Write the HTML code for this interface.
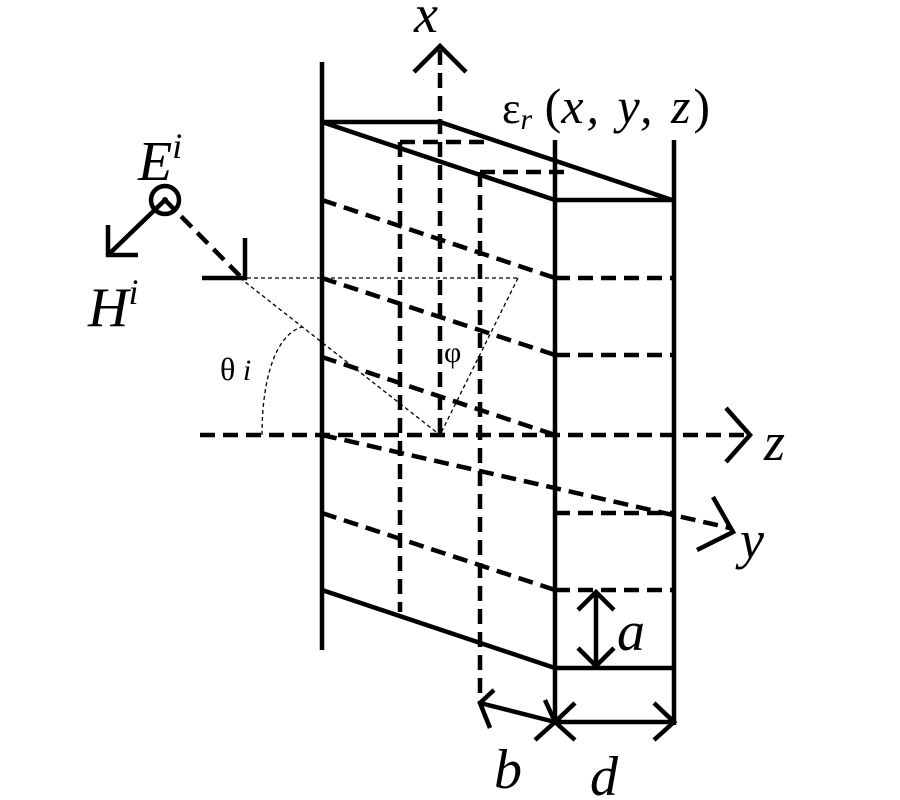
<!DOCTYPE html>
<html><head><style>body{margin:0;background:#fff}svg{display:block}</style></head><body>
<svg width="900" height="800" viewBox="0 0 900 800" xmlns="http://www.w3.org/2000/svg" font-family="Liberation Serif, serif" font-style="italic">
<g stroke="#000" stroke-width="4.5" fill="none" stroke-linecap="butt">
<line x1="322" y1="62" x2="322" y2="650"/>
<polyline points="322,122 440,122 672,200"/>
<line x1="322" y1="122" x2="555" y2="200"/>
<line x1="555" y1="140" x2="555" y2="722"/>
<line x1="674" y1="140" x2="674" y2="725"/>
<line x1="555" y1="200" x2="674" y2="200"/>
<line x1="322" y1="590" x2="555" y2="668"/>
<line x1="555" y1="668" x2="674" y2="668"/>
<polyline points="414,72 440,46 466,72"/>
<polyline points="726,408 750,435 726,462"/>
<polyline points="713,497 733,532 697,550"/>
<circle cx="165" cy="200" r="14"/>
<line x1="165" y1="200" x2="108" y2="255"/>
<polyline points="108,225 108,255 138,255"/>
<polyline points="245,238 245,278 202,278"/>
<line x1="596" y1="592" x2="596" y2="665"/>
<polyline points="578,610 596,592 614,610"/>
<polyline points="578,648 596,666 614,648"/>
<line x1="480" y1="703" x2="555" y2="722"/>
<polyline points="494,690 480,703 490,728"/>
<polyline points="535,740 555,722 545,700"/>
<line x1="555" y1="722" x2="674" y2="722"/>
<polyline points="575,703 555,722 575,740"/>
<polyline points="654,703 674,722 654,740"/>
</g>
<circle cx="165" cy="200" r="3" fill="#000"/>
<g stroke="#000" stroke-width="4.5" fill="none" stroke-dasharray="15,8">
<line x1="440" y1="50" x2="440" y2="435"/>
<line x1="200" y1="435" x2="748" y2="435"/>
<line x1="322" y1="435" x2="730" y2="528"/>
<line x1="400" y1="142" x2="400" y2="612"/>
<line x1="480" y1="172" x2="480" y2="703"/>
<line x1="400" y1="142" x2="490" y2="142"/>
<line x1="480" y1="172" x2="570" y2="172"/>
<line x1="322" y1="200" x2="555" y2="278"/>
<line x1="322" y1="278" x2="555" y2="355"/>
<line x1="322" y1="357" x2="555" y2="435"/>
<line x1="322" y1="513" x2="555" y2="590"/>
<line x1="555" y1="278" x2="674" y2="278"/>
<line x1="555" y1="355" x2="674" y2="355"/>
<line x1="555" y1="513" x2="674" y2="513"/>
<line x1="555" y1="590" x2="674" y2="590"/>
<line x1="165" y1="200" x2="240" y2="276"/>
</g>
<g stroke="#000" stroke-width="1.3" fill="none" stroke-dasharray="4,3">
<line x1="240" y1="278" x2="518" y2="278"/>
<line x1="240" y1="278" x2="440" y2="435"/>
<line x1="518" y1="278" x2="440" y2="435"/>
<path d="M262,435 C262,380 275,335 302,327"/>
</g>
<g fill="#000">
<text x="414" y="32" font-size="54">x</text>
<text x="502" y="123" font-size="44" font-style="normal">ε<tspan font-style="italic" font-size="30" dy="6">r</tspan><tspan dy="-6" font-size="50"> (</tspan><tspan font-style="italic" font-size="50" letter-spacing="3">x, y, z</tspan><tspan font-size="50">)</tspan></text>
<text x="138" y="180" font-size="56">E<tspan font-size="36" dy="-22">i</tspan></text>
<text x="88" y="326" font-size="56">H<tspan font-size="36" dy="-22">i</tspan></text>
<text x="220" y="380" font-size="32" font-style="normal">θ<tspan font-style="italic" font-size="30"> i</tspan></text>
<text x="444" y="362" font-size="30" font-style="normal">φ</text>
<text x="764" y="460" font-size="54">z</text>
<text x="740" y="558" font-size="54">y</text>
<text x="617" y="650" font-size="56">a</text>
<text x="494" y="788" font-size="56">b</text>
<text x="590" y="795" font-size="56">d</text>
</g>
</svg>
</body></html>
